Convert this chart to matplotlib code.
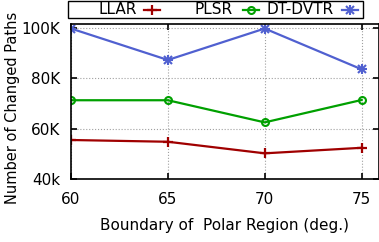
import matplotlib
matplotlib.use("Agg")
import matplotlib.pyplot as plt
from matplotlib.lines import Line2D
from matplotlib.patches import Rectangle

x = [60, 65, 70, 75]
llar = [55.5, 54.8, 50.2, 52.4]
plsr = [71.3, 71.3, 62.5, 71.4]
dtdvtr = [99.8, 87.3, 99.8, 83.6]
yticks = [40, 60, 80, 100]
ytick_labels = ["40k", "60K", "80K", "100K"]
names = ['LLAR', 'PLSR', 'DT-DVTR']
colors = ['#a00000', '#00a000', '#5060d0']

W, H = 379, 242
plt.rcParams['font.family'] = ['DejaVu Sans']
fig = plt.figure(figsize=(W / 100, H / 100), dpi=100)
ax = fig.add_axes([71 / W, 63 / H, 1 - 71 / W, (179 - 24.5) / H])

ax.plot(x, llar, color=colors[0], marker='+', markersize=7, mew=1.6, lw=1.6)
ax.plot(x, plsr, color=colors[1], marker='o', markersize=5, mfc='none', mew=1.5, lw=1.6)
ax.plot(x, dtdvtr, color=colors[2], marker='x', markersize=6, mew=1.5, lw=1.6)
ax.plot(x, dtdvtr, color=colors[2], marker='+', markersize=7, mew=1.5, lw=0)

ax.set_xlim(60, 75.9)
ax.set_ylim(40, 101.4)
ax.set_xticks(x)
ax.set_yticks(yticks)
ax.set_yticklabels(ytick_labels)
ax.tick_params(direction='in', labelsize=11, length=4, width=1.2, top=True, right=True)
ax.tick_params(axis='x', pad=9.5)
ax.tick_params(axis='y', pad=8)
ax.grid(True, color='#a0a0a0', linestyle=':', lw=0.8)
for s in ax.spines.values():
    s.set_linewidth(1.2)
ax.set_xlabel('Boundary of  Polar Region (deg.)', fontsize=11, labelpad=8)
ax.set_ylabel('Number of Changed Paths', fontsize=10.5)
ax.yaxis.set_label_coords(-0.1656, 0.463)

# gnuplot-style key: right-aligned text followed by sample
fx = lambda px: px / W
fy = lambda py: 1 - py / H
fig.add_artist(Rectangle((fx(68), fy(17.5)), fx(363) - fx(68), fy(0.5) - fy(17.5),
                         transform=fig.transFigure, fill=True, facecolor='white',
                         edgecolor='black', lw=1.0, zorder=5))
text_right = [137, 233, 334]
sample_c = [152, 251, 350]
markers = [dict(marker='+', markersize=7, mew=1.6),
           dict(marker='o', markersize=5, mfc='none', mew=1.5),
           dict(marker='x', markersize=6, mew=1.5)]
ky = 9.5
for name, c, tr, sc, mk in zip(names, colors, text_right, sample_c, markers):
    fig.text(fx(tr), fy(ky), name, ha='right', va='center', fontsize=11, zorder=6)
    fig.add_artist(Line2D([fx(sc - 8), fx(sc + 8)], [fy(ky), fy(ky)], color=c, lw=1.6,
                          transform=fig.transFigure, zorder=6))
    fig.add_artist(Line2D([fx(sc)], [fy(ky)], color=c, lw=0, transform=fig.transFigure,
                          zorder=7, **mk))
fig.add_artist(Line2D([fx(sample_c[2])], [fy(ky)], color=colors[2], lw=0, marker='+',
                      markersize=7, mew=1.5, transform=fig.transFigure, zorder=7))

fig.savefig('out.png', dpi=100)
